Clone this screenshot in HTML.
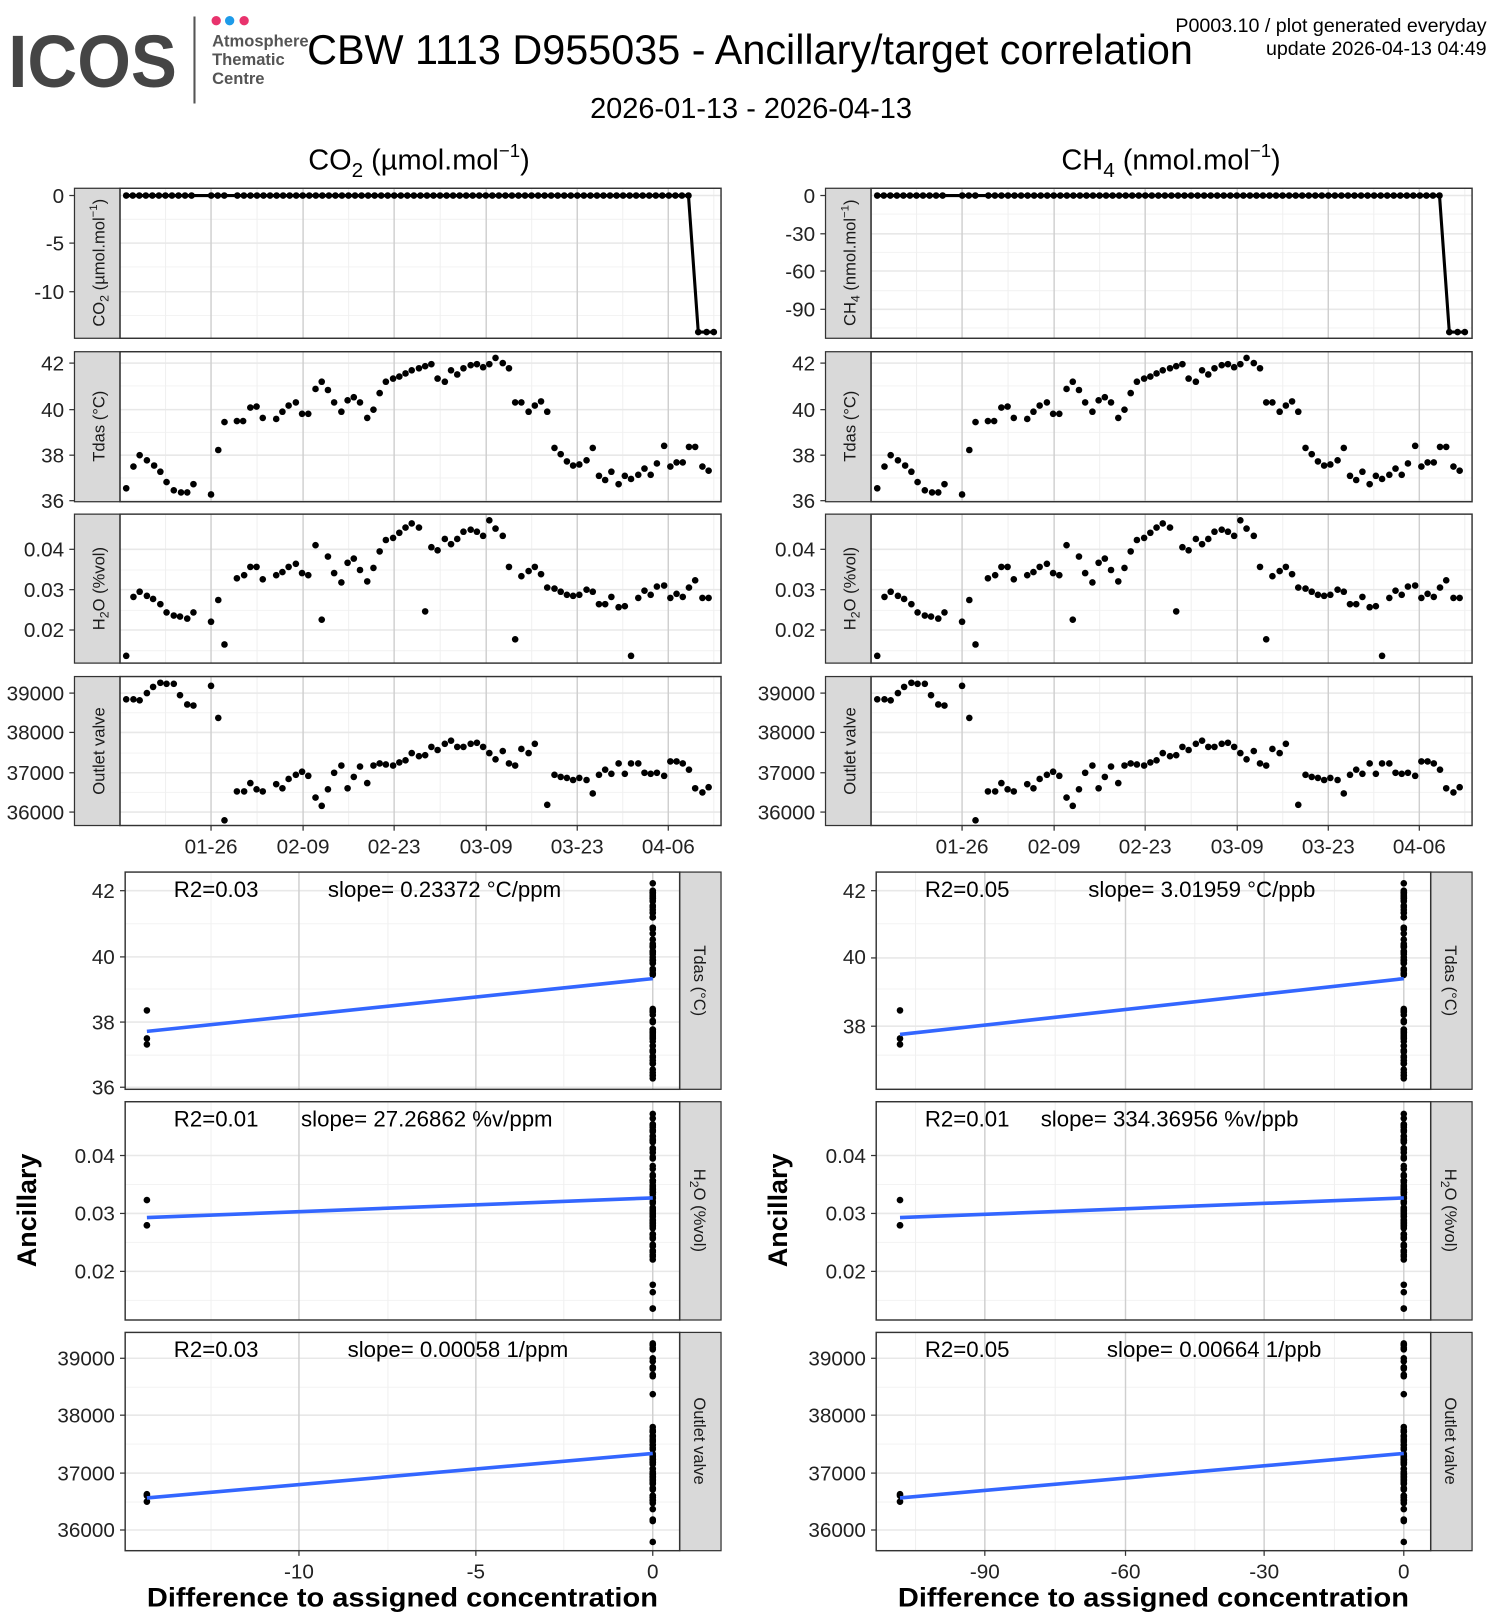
<!DOCTYPE html>
<html><head><meta charset="utf-8">
<style>
html,body{margin:0;padding:0;background:#fff;}
svg{display:block;}
text{font-family:"Liberation Sans",Arial,sans-serif;}
</style></head>
<body>
<svg id="s" xmlns="http://www.w3.org/2000/svg" width="1500" height="1620" viewBox="0 0 1450 1566">
<rect width="1450" height="1566" fill="#fff"/>
<g id="bg"></g>
<text x="8" y="84" font-size="72" font-weight="bold" fill="#454545" textLength="163" lengthAdjust="spacingAndGlyphs">ICOS</text>
<line x1="188" y1="16" x2="188" y2="100" stroke="#555" stroke-width="2"/>
<circle cx="209" cy="20" r="4.5" fill="#e8336d"/><circle cx="222" cy="20" r="4.5" fill="#1e9be9"/><circle cx="236" cy="20" r="4.5" fill="#e8336d"/>
<g font-size="16" font-weight="bold" fill="#555"><text x="205" y="45">Atmosphere</text><text x="205" y="63">Thematic</text><text x="205" y="81">Centre</text></g>
<text x="725" y="62" font-size="40" text-anchor="middle" fill="#000">CBW 1113 D955035 - Ancillary/target correlation</text>
<text x="1437" y="31" font-size="19" text-anchor="end">P0003.10 / plot generated everyday</text>
<text x="1437" y="53" font-size="19" text-anchor="end">update  2026-04-13 04:49</text>
<text x="726" y="114" font-size="28" text-anchor="middle">2026-01-13 - 2026-04-13</text>
<text x="405" y="164" font-size="28" text-anchor="middle">CO<tspan font-size="20" dy="7">2</tspan><tspan dy="-7"> (µmol.mol</tspan><tspan font-size="18" dy="-12">−1</tspan><tspan dy="12">)</tspan></text>
<text x="1132" y="164" font-size="28" text-anchor="middle">CH<tspan font-size="20" dy="7">4</tspan><tspan dy="-7"> (nmol.mol</tspan><tspan font-size="18" dy="-12">−1</tspan><tspan dy="12">)</tspan></text>

<g font-size="20" fill="#222" text-anchor="end">
<text x="62" y="196">0</text><text x="62" y="242">-5</text><text x="62" y="289">-10</text>
<text x="62" y="358">42</text><text x="62" y="403">40</text><text x="62" y="447">38</text><text x="62" y="491">36</text>
<text x="62" y="538">0.04</text><text x="62" y="577">0.03</text><text x="62" y="616">0.02</text>
<text x="62" y="677">39000</text><text x="62" y="715">38000</text><text x="62" y="754">37000</text><text x="62" y="792">36000</text>
<text x="788" y="196">0</text><text x="788" y="233">-30</text><text x="788" y="269">-60</text><text x="788" y="306">-90</text>
<text x="788" y="358">42</text><text x="788" y="403">40</text><text x="788" y="447">38</text><text x="788" y="491">36</text>
<text x="788" y="538">0.04</text><text x="788" y="577">0.03</text><text x="788" y="616">0.02</text>
<text x="788" y="677">39000</text><text x="788" y="715">38000</text><text x="788" y="754">37000</text><text x="788" y="792">36000</text>
<text x="111" y="868">42</text><text x="111" y="932">40</text><text x="111" y="995">38</text><text x="111" y="1058">36</text>
<text x="111" y="1124">0.04</text><text x="111" y="1180">0.03</text><text x="111" y="1236">0.02</text>
<text x="111" y="1320">39000</text><text x="111" y="1375">38000</text><text x="111" y="1431">37000</text><text x="111" y="1486">36000</text>
<text x="837" y="868">42</text><text x="837" y="932">40</text><text x="837" y="999">38</text>
<text x="837" y="1124">0.04</text><text x="837" y="1180">0.03</text><text x="837" y="1236">0.02</text>
<text x="837" y="1320">39000</text><text x="837" y="1375">38000</text><text x="837" y="1431">37000</text><text x="837" y="1486">36000</text>
</g>
<g font-size="20" fill="#222" text-anchor="middle">
<text x="204" y="825">01-26</text><text x="293" y="825">02-09</text><text x="381" y="825">02-23</text><text x="470" y="825">03-09</text><text x="558" y="825">03-23</text><text x="646" y="825">04-06</text>
<text x="930" y="825">01-26</text><text x="1019" y="825">02-09</text><text x="1107" y="825">02-23</text><text x="1196" y="825">03-09</text><text x="1284" y="825">03-23</text><text x="1372" y="825">04-06</text>
<text x="289" y="1526">-10</text><text x="460" y="1526">-5</text><text x="631" y="1526">0</text>
<text x="952" y="1526">-90</text><text x="1088" y="1526">-60</text><text x="1222" y="1526">-30</text><text x="1357" y="1526">0</text>
</g>
<g font-size="26" font-weight="bold">
<text x="142" y="1553" textLength="494" lengthAdjust="spacingAndGlyphs">Difference to assigned concentration</text>
<text x="868" y="1553" textLength="494" lengthAdjust="spacingAndGlyphs">Difference to assigned concentration</text>
<text transform="translate(35,1170) rotate(-90)" text-anchor="middle">Ancillary</text>
<text transform="translate(761,1170) rotate(-90)" text-anchor="middle">Ancillary</text>
</g>
<g font-size="21.5" fill="#000">
<text x="168" y="867">R2=0.03</text><text x="317" y="867">slope= 0.23372 °C/ppm</text>
<text x="168" y="1089">R2=0.01</text><text x="291" y="1089">slope= 27.26862 %v/ppm</text>
<text x="168" y="1312">R2=0.03</text><text x="336" y="1312">slope= 0.00058 1/ppm</text>
<text x="894" y="867">R2=0.05</text><text x="1052" y="867">slope= 3.01959 °C/ppb</text>
<text x="894" y="1089">R2=0.01</text><text x="1006" y="1089">slope= 334.36956 %v/ppb</text>
<text x="894" y="1312">R2=0.05</text><text x="1070" y="1312">slope= 0.00664 1/ppb</text>
</g>
<g id="fg"></g>
<g font-size="16" fill="#1a1a1a" text-anchor="middle">
<text transform="translate(101,254) rotate(-90)">CO<tspan font-size="12" dy="4">2</tspan><tspan dy="-4"> (µmol.mol</tspan><tspan font-size="11" dy="-7">−1</tspan><tspan dy="7">)</tspan></text>
<text transform="translate(101,412) rotate(-90)">Tdas (°C)</text>
<text transform="translate(101,569) rotate(-90)">H<tspan font-size="12" dy="4">2</tspan><tspan dy="-4">O (%vol)</tspan></text>
<text transform="translate(101,726) rotate(-90)">Outlet valve</text>
<text transform="translate(827,254) rotate(-90)">CH<tspan font-size="12" dy="4">4</tspan><tspan dy="-4"> (nmol.mol</tspan><tspan font-size="11" dy="-7">−1</tspan><tspan dy="7">)</tspan></text>
<text transform="translate(827,412) rotate(-90)">Tdas (°C)</text>
<text transform="translate(827,569) rotate(-90)">H<tspan font-size="12" dy="4">2</tspan><tspan dy="-4">O (%vol)</tspan></text>
<text transform="translate(827,726) rotate(-90)">Outlet valve</text>
<text transform="translate(671,948) rotate(90)">Tdas (°C)</text>
<text transform="translate(671,1170) rotate(90)">H<tspan font-size="12" dy="4">2</tspan><tspan dy="-4">O (%vol)</tspan></text>
<text transform="translate(671,1393) rotate(90)">Outlet valve</text>
<text transform="translate(1397,948) rotate(90)">Tdas (°C)</text>
<text transform="translate(1397,1170) rotate(90)">H<tspan font-size="12" dy="4">2</tspan><tspan dy="-4">O (%vol)</tspan></text>
<text transform="translate(1397,1393) rotate(90)">Outlet valve</text>
</g>
</svg>
<script>
(function(){
var NS="http://www.w3.org/2000/svg",bg=document.getElementById('bg'),fg=document.getElementById('fg');
function el(p,n,a){var e=document.createElementNS(NS,n);for(var k in a)e.setAttribute(k,a[k]);p.appendChild(e);return e;}
function hl(p,x1,x2,y,c,w){el(p,'line',{x1:x1,x2:x2,y1:y,y2:y,stroke:c,'stroke-width':w});}
function vl(p,x,y1,y2,c,w){el(p,'line',{x1:x,x2:x,y1:y1,y2:y2,stroke:c,'stroke-width':w});}
var T=[[122,472],[129,451],[135,440],[142,445],[149,450],[155,456],[161,466],[168,474],[175,476],[181,476],[187,468],[204,478],[211,435],[217,408],[229,407],[235,407],[242,394],[248,393],[254,404],[267,405],[273,398],[279,392],[286,389],[292,400],[298,400],[305,376],[311,369],[317,377],[323,389],[330,398],[336,387],[342,384],[348,389],[355,404],[361,396],[367,380],[373,369],[380,366],[386,364],[392,361],[398,358],[405,356],[411,354],[417,352],[423,366],[430,369],[436,358],[442,362],[448,356],[455,353],[461,352],[467,355],[473,352],[479,346],[486,351],[492,356],[498,389],[504,389],[511,398],[517,392],[523,388],[529,398],[536,433],[542,439],[548,446],[554,450],[560,449],[567,445],[573,433],[579,460],[585,464],[591,456],[598,468],[604,460],[610,463],[617,459],[623,453],[629,459],[635,448],[642,431],[648,451],[654,447],[660,447],[666,432],[672,432],[679,451],[685,455]];
var H=[[122,634],[129,577],[135,572],[142,576],[148,579],[155,584],[161,592],[168,595],[174,596],[181,598],[187,592],[204,601],[211,580],[217,623],[229,559],[236,556],[242,548],[248,548],[254,560],[267,556],[273,553],[279,548],[286,545],[292,554],[298,556],[305,527],[311,599],[317,538],[323,554],[330,563],[336,544],[342,540],[348,551],[355,562],[361,549],[367,533],[373,522],[380,520],[386,515],[392,510],[398,506],[405,510],[411,591],[417,529],[423,532],[430,521],[436,526],[442,521],[448,514],[455,512],[461,514],[467,518],[473,503],[479,511],[486,518],[492,548],[498,618],[504,557],[511,552],[517,548],[523,555],[529,568],[536,569],[542,572],[548,575],[554,576],[560,575],[567,570],[573,572],[579,584],[585,584],[591,577],[598,587],[604,586],[610,634],[617,578],[623,571],[629,575],[635,567],[642,566],[648,578],[654,574],[660,577],[666,568],[672,561],[679,578],[685,578]];
var O=[[122,676],[129,676],[135,677],[142,670],[148,664],[155,660],[161,661],[168,661],[174,672],[181,681],[187,682],[204,663],[211,694],[217,793],[229,765],[236,765],[242,757],[248,763],[254,765],[267,758],[273,762],[279,753],[286,749],[292,746],[298,750],[305,771],[311,779],[317,763],[323,747],[330,740],[336,762],[342,751],[348,741],[355,757],[361,740],[367,738],[373,739],[380,740],[386,737],[392,735],[398,728],[405,731],[411,730],[417,722],[423,725],[430,719],[436,716],[442,722],[448,722],[455,719],[461,718],[467,722],[473,728],[479,734],[486,726],[492,738],[498,740],[504,724],[511,728],[517,719],[529,778],[536,749],[542,751],[548,752],[554,754],[560,752],[567,754],[573,767],[579,749],[585,744],[591,748],[598,738],[604,748],[610,738],[617,738],[623,747],[629,748],[635,747],[642,750],[648,736],[654,736],[660,738],[666,744],[672,762],[679,766],[685,761]];
var C=[];for(var x=122;x<=669;x+=6.32){if((x>188&&x<200)||(x>220&&x<228))continue;C.push([x,189]);}
var majX=[204,293,381,470,558,646],minX=[160,248.5,337,425.5,514,602,690];
var panels=[{y1:182,y2:327,maj:[189,235,282],min:[212,258,305],majR:[189,226,262,299],minR:[207,244,281,317],d:'C'},
{y1:340,y2:485,maj:[351,396,440,484],min:[373,418,462],d:T},
{y1:497,y2:641,maj:[531,570,609],min:[551,590,629],d:H},
{y1:654,y2:798,maj:[670,708,747,785],min:[689,728,766],d:O}];
[0,726].forEach(function(off,ci){
 var L=116+off,R=697+off;
 panels.forEach(function(p,pi){
  el(bg,'rect',{x:L,y:p.y1,width:R-L,height:p.y2-p.y1,fill:'#fff'});
  var mj=(pi==0&&ci==1)?p.majR:p.maj, mn=(pi==0&&ci==1)?p.minR:p.min;
  mn.forEach(function(y){hl(bg,L,R,y,'#f3f3f3',1);});
  minX.forEach(function(x){vl(bg,x+off,p.y1,p.y2,'#f0f0f0',1);});
  mj.forEach(function(y){hl(bg,L,R,y,'#e8e8e8',1.5);});
  majX.forEach(function(x){vl(bg,x+off,p.y1,p.y2,'#cfcfcf',1.4);});
  el(fg,'rect',{x:72+off,y:p.y1,width:44,height:p.y2-p.y1,fill:'#d9d9d9',stroke:'#333','stroke-width':1.2});
  el(fg,'rect',{x:L,y:p.y1,width:R-L,height:p.y2-p.y1,fill:'none',stroke:'#333','stroke-width':1.4});
  mj.forEach(function(y){hl(fg,67+off,72+off,y,'#333',1.2);});
  if(pi==3)majX.forEach(function(x){vl(fg,x+off,798,803,'#333',1.2);});
  if(p.d==='C'){
   var pts=C.map(function(q){return (q[0]+off)+','+q[1];});
   pts.push((675+off)+',321',(690+off)+',321');
   el(fg,'polyline',{points:pts.join(' '),fill:'none',stroke:'#000','stroke-width':3});
   C.concat([[675,321],[683,321],[690,321]]).forEach(function(q){el(fg,'circle',{cx:q[0]+off,cy:q[1],r:3.2,fill:'#000'});});
  } else p.d.forEach(function(q){el(fg,'circle',{cx:q[0]+off,cy:q[1],r:3.2,fill:'#000'});});
 });
 var sL=121+off,sR=657+off;
 var xs=ci==0?{maj:[289,460,631],min:[204,375,545],lx:142,rx:631}:{maj:[952,1088,1222,1357],min:[885,1020,1155,1290],lx:870,rx:1357};
 var sp=[{y1:843,y2:1053,maj:ci==0?[861,925,988,1051]:[861,926,992],min:[893,956,1020],d:T,b:484,s:1051,f:1.4286,line:ci==0?[997,946]:[1000,946]},
 {y1:1065,y2:1276,maj:[1117,1173,1229],min:[1145,1201,1257],d:H,b:609,s:1229,f:1.436,line:[1177,1158]},
 {y1:1288,y2:1499,maj:[1313,1368,1424,1479],min:[1341,1396,1452],d:O,b:785,s:1479,f:1.443,line:[1448,1405]}];
 sp.forEach(function(p,pi){
  el(bg,'rect',{x:sL,y:p.y1,width:sR-sL,height:p.y2-p.y1,fill:'#fff'});
  p.min.forEach(function(y){hl(bg,sL,sR,y,'#f3f3f3',1);});
  xs.min.forEach(function(x){vl(bg,x,p.y1,p.y2,'#f0f0f0',1);});
  p.maj.forEach(function(y){hl(bg,sL,sR,y,'#e8e8e8',1.5);hl(fg,sL-5,sL,y,'#333',1.2);});
  xs.maj.forEach(function(x){vl(bg,x,p.y1,p.y2,'#cfcfcf',1.4);});
  el(fg,'rect',{x:sR,y:p.y1,width:40,height:p.y2-p.y1,fill:'#d9d9d9',stroke:'#333','stroke-width':1.2});
  el(fg,'rect',{x:sL,y:p.y1,width:sR-sL,height:p.y2-p.y1,fill:'none',stroke:'#333','stroke-width':1.4});
  if(pi==2)xs.maj.forEach(function(x){vl(fg,x,1499,1504,'#333',1.2);});
  p.d.forEach(function(q){var y=p.s+(q[1]-p.b)*p.f;var x=q[0]>=670?xs.lx:xs.rx;el(fg,'circle',{cx:x,cy:y,r:3.2,fill:'#000'});});
  el(fg,'line',{x1:xs.lx,y1:p.line[0],x2:xs.rx,y2:p.line[1],stroke:'#3366FF','stroke-width':3.5});
 });
});
})();
</script>
</body></html>
